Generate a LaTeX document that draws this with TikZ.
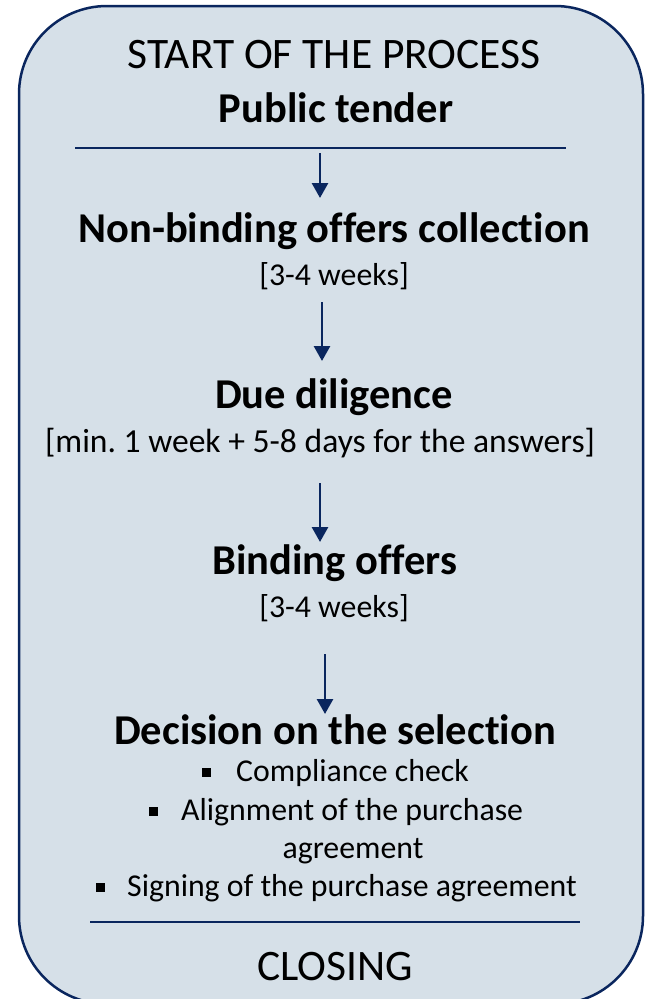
\documentclass[tikz,border=0pt]{standalone}
\usepackage{fontspec}
\setmainfont{Carlito}[Ligatures=NoCommon]
\usetikzlibrary{arrows.meta}
\definecolor{navy}{RGB}{10,38,94}
\definecolor{boxfill}{RGB}{214,224,232}
\tikzset{
  every node/.style={inner sep=0pt, text=black},
  title/.style={font=\fontsize{43.5}{50}\selectfont},
  head/.style={font=\fontsize{42.5}{50}\selectfont\bfseries},
  sub/.style={font=\fontsize{31.8}{37}\selectfont\frenchspacing},
  subwide/.style={font=\fontsize{33.6}{39}\selectfont\frenchspacing},
  bul/.style={fill=black, minimum size=9, inner sep=0pt},
  flow/.style={draw=navy, line width=2.8, -{Triangle[width=16,length=15]}},
  sep/.style={draw=navy, line width=1.8},
}
\begin{document}
\begin{tikzpicture}[x=1pt,y=-1pt]
\useasboundingbox (0,0) rectangle (659,999);
\begin{scope}
\clip (0,0) rectangle (659,999);
\draw[draw=navy, fill=boxfill, line width=2.5, rounded corners=88] (19,6) rectangle (643,1004);
\end{scope}
\node[title] (start) at (334,55) {START OF THE PROCESS};
\node[head] (tender) at (336,108) {Public tender};
\coordinate (l1a) at (75,148);
\coordinate (l1b) at (566,148);
\draw[sep] (l1a) -- (l1b);
\coordinate (a1s) at (320,153);
\coordinate (a1e) at (320,198);
\draw[flow] (a1s) -- (a1e);
\node[head] (nbo) at (334,231) {Non-binding offers collection};
\node[sub] (w1) at (334,276) {[3-4 weeks]};
\coordinate (a2s) at (322,302);
\coordinate (a2e) at (322,361);
\draw[flow] (a2s) -- (a2e);
\node[head] (dd) at (334,397) {Due diligence};
\node[subwide] (ddt) at (320,443) {[min. 1 week + 5-8 days for the answers]};
\coordinate (a3s) at (320,483);
\coordinate (a3e) at (320,542);
\draw[flow] (a3s) -- (a3e);
\node[head] (bo) at (335,563) {Binding offers};
\node[sub] (w2) at (334,608) {[3-4 weeks]};
\coordinate (a4s) at (325,654);
\coordinate (a4e) at (325,714);
\draw[flow] (a4s) -- (a4e);
\node[head] (dec) at (335,730) {Decision on the selection};
\node[bul] (b1) at (206,772) {};
\node[sub, anchor=west] (t1) at (236,773) {Compliance check};
\node[bul] (b2) at (153,811) {};
\node[sub, anchor=west] (t2) at (181,812) {Alignment of the purchase};
\node[sub] (t2b) at (353,851) {agreement};
\node[bul] (b3) at (100,887) {};
\node[sub, anchor=west] (t3) at (127,888) {Signing of the purchase agreement};
\coordinate (l2a) at (90,922);
\coordinate (l2b) at (580,922);
\draw[sep] (l2a) -- (l2b);
\node[title] (closing) at (335,967) {CLOSING};
\end{tikzpicture}
\end{document}
